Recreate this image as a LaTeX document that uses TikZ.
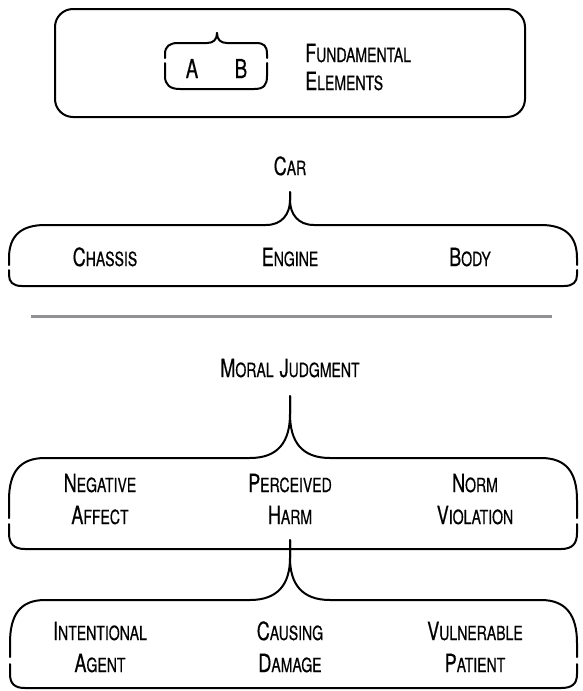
\documentclass[tikz,border=0pt]{standalone}
\usepackage{fontspec}
\setmainfont{TeX Gyre Heros}[FakeStretch=0.72,FakeBold=0.5]
\newcommand\SCap[2]{{\fontsize{25}{30}\selectfont #1}{\fontsize{19.5}{24}\selectfont #2}}
\definecolor{rulegray}{RGB}{145,145,148}
\begin{document}
\begin{tikzpicture}[x=1pt,y=-1pt,
  brace/.style={line width=2pt, line join=round, line cap=round},
  lbl/.style={anchor=base, inner sep=0pt},
  lblw/.style={anchor=base west, inner sep=0pt}]
\useasboundingbox (0,0) rectangle (583,691);
% top legend box
\draw[line width=2pt, rounded corners=18pt] (55,9) rectangle (525,117);
\draw[brace] (217,33) .. controls (217,40) and (213,43) .. (207,43) -- (178,43) .. controls (170,43) and (165,46) .. (165,54) -- (165,58);
\draw[brace] (217,33) .. controls (217,40) and (221,43) .. (227,43) -- (256,43) .. controls (264,43) and (267,46) .. (267,54) -- (267,58);
\draw[brace] (165,63) -- (165,76) .. controls (165,85) and (170,89) .. (180,89) -- (254,89) .. controls (264,89) and (267,85) .. (267,76) -- (267,63);
\node[lbl] (a) at (192,78) {\fontsize{26}{30}\selectfont A};
\node[lbl] (b) at (241,78) {\fontsize{26}{30}\selectfont B};
\node[lblw] (fund) at (305,62) {\SCap{F}{UNDAMENTAL}};
\node[lblw] (elem) at (305,90) {\SCap{E}{LEMENTS}};
% car
\node[lbl] (car) at (290,175) {\SCap{C}{AR}};
\draw[brace] (290,192) -- (290,200) .. controls (290,214) and (282,225) .. (266,225) -- (45,225) .. controls (22,225) and (9,235) .. (9,258) -- (9,265);
\draw[brace] (290,192) -- (290,200) .. controls (290,214) and (298,225) .. (314,225) -- (541,225) .. controls (564,225) and (577,235) .. (577,258) -- (577,265);
\draw[brace] (9,270) -- (9,275) .. controls (9,282) and (13,286) .. (22,286) -- (564,286) .. controls (573,286) and (577,282) .. (577,275) -- (577,270);
\node[lbl] (chassis) at (105,266) {\SCap{C}{HASSIS}};
\node[lbl] (engine) at (290,266) {\SCap{E}{NGINE}};
\node[lbl] (body) at (470,266) {\SCap{B}{ODY}};
% separator
\draw[rulegray, line width=3pt] (31,316) -- (552,316);
% moral judgment
\node[lbl] (moral) at (290,377) {\SCap{M}{ORAL}\hspace{6pt}\SCap{J}{UDGMENT}};
\draw[brace] (290,396) -- (290,414) .. controls (290,442) and (278,458) .. (250,458) -- (45,458) .. controls (20,458) and (9,472) .. (9,500) -- (9,518);
\draw[brace] (290,396) -- (290,414) .. controls (290,442) and (302,458) .. (330,458) -- (541,458) .. controls (566,458) and (577,472) .. (577,500) -- (577,518);
\draw[brace] (9,524) -- (9,533) .. controls (9,544) and (14,549) .. (25,549) -- (561,549) .. controls (572,549) and (577,544) .. (577,533) -- (577,524);
\node[lbl] (neg1) at (100,492) {\SCap{N}{EGATIVE}};
\node[lbl] (neg2) at (100,524) {\SCap{A}{FFECT}};
\node[lbl] (harm1) at (290,492) {\SCap{P}{ERCEIVED}};
\node[lbl] (harm2) at (290,524) {\SCap{H}{ARM}};
\node[lbl] (norm1) at (475,492) {\SCap{N}{ORM}};
\node[lbl] (norm2) at (475,524) {\SCap{V}{IOLATION}};
% harm components
\draw[brace] (290,540) -- (290,558) .. controls (290,584) and (278,600) .. (250,600) -- (45,600) .. controls (20,600) and (10,615) .. (10,643) -- (10,657);
\draw[brace] (290,540) -- (290,558) .. controls (290,584) and (302,600) .. (330,600) -- (541,600) .. controls (566,600) and (577,615) .. (577,643) -- (577,657);
\draw[brace] (10,664) -- (10,674) .. controls (10,684) and (15,688) .. (25,688) -- (561,688) .. controls (572,688) and (577,684) .. (577,674) -- (577,664);
\node[lbl] (int1) at (100,640) {\SCap{I}{NTENTIONAL}};
\node[lbl] (int2) at (100,672) {\SCap{A}{GENT}};
\node[lbl] (cau1) at (290,640) {\SCap{C}{AUSING}};
\node[lbl] (cau2) at (290,672) {\SCap{D}{AMAGE}};
\node[lbl] (vul1) at (475,640) {\SCap{V}{ULNERABLE}};
\node[lbl] (vul2) at (475,672) {\SCap{P}{ATIENT}};
\end{tikzpicture}
\end{document}
